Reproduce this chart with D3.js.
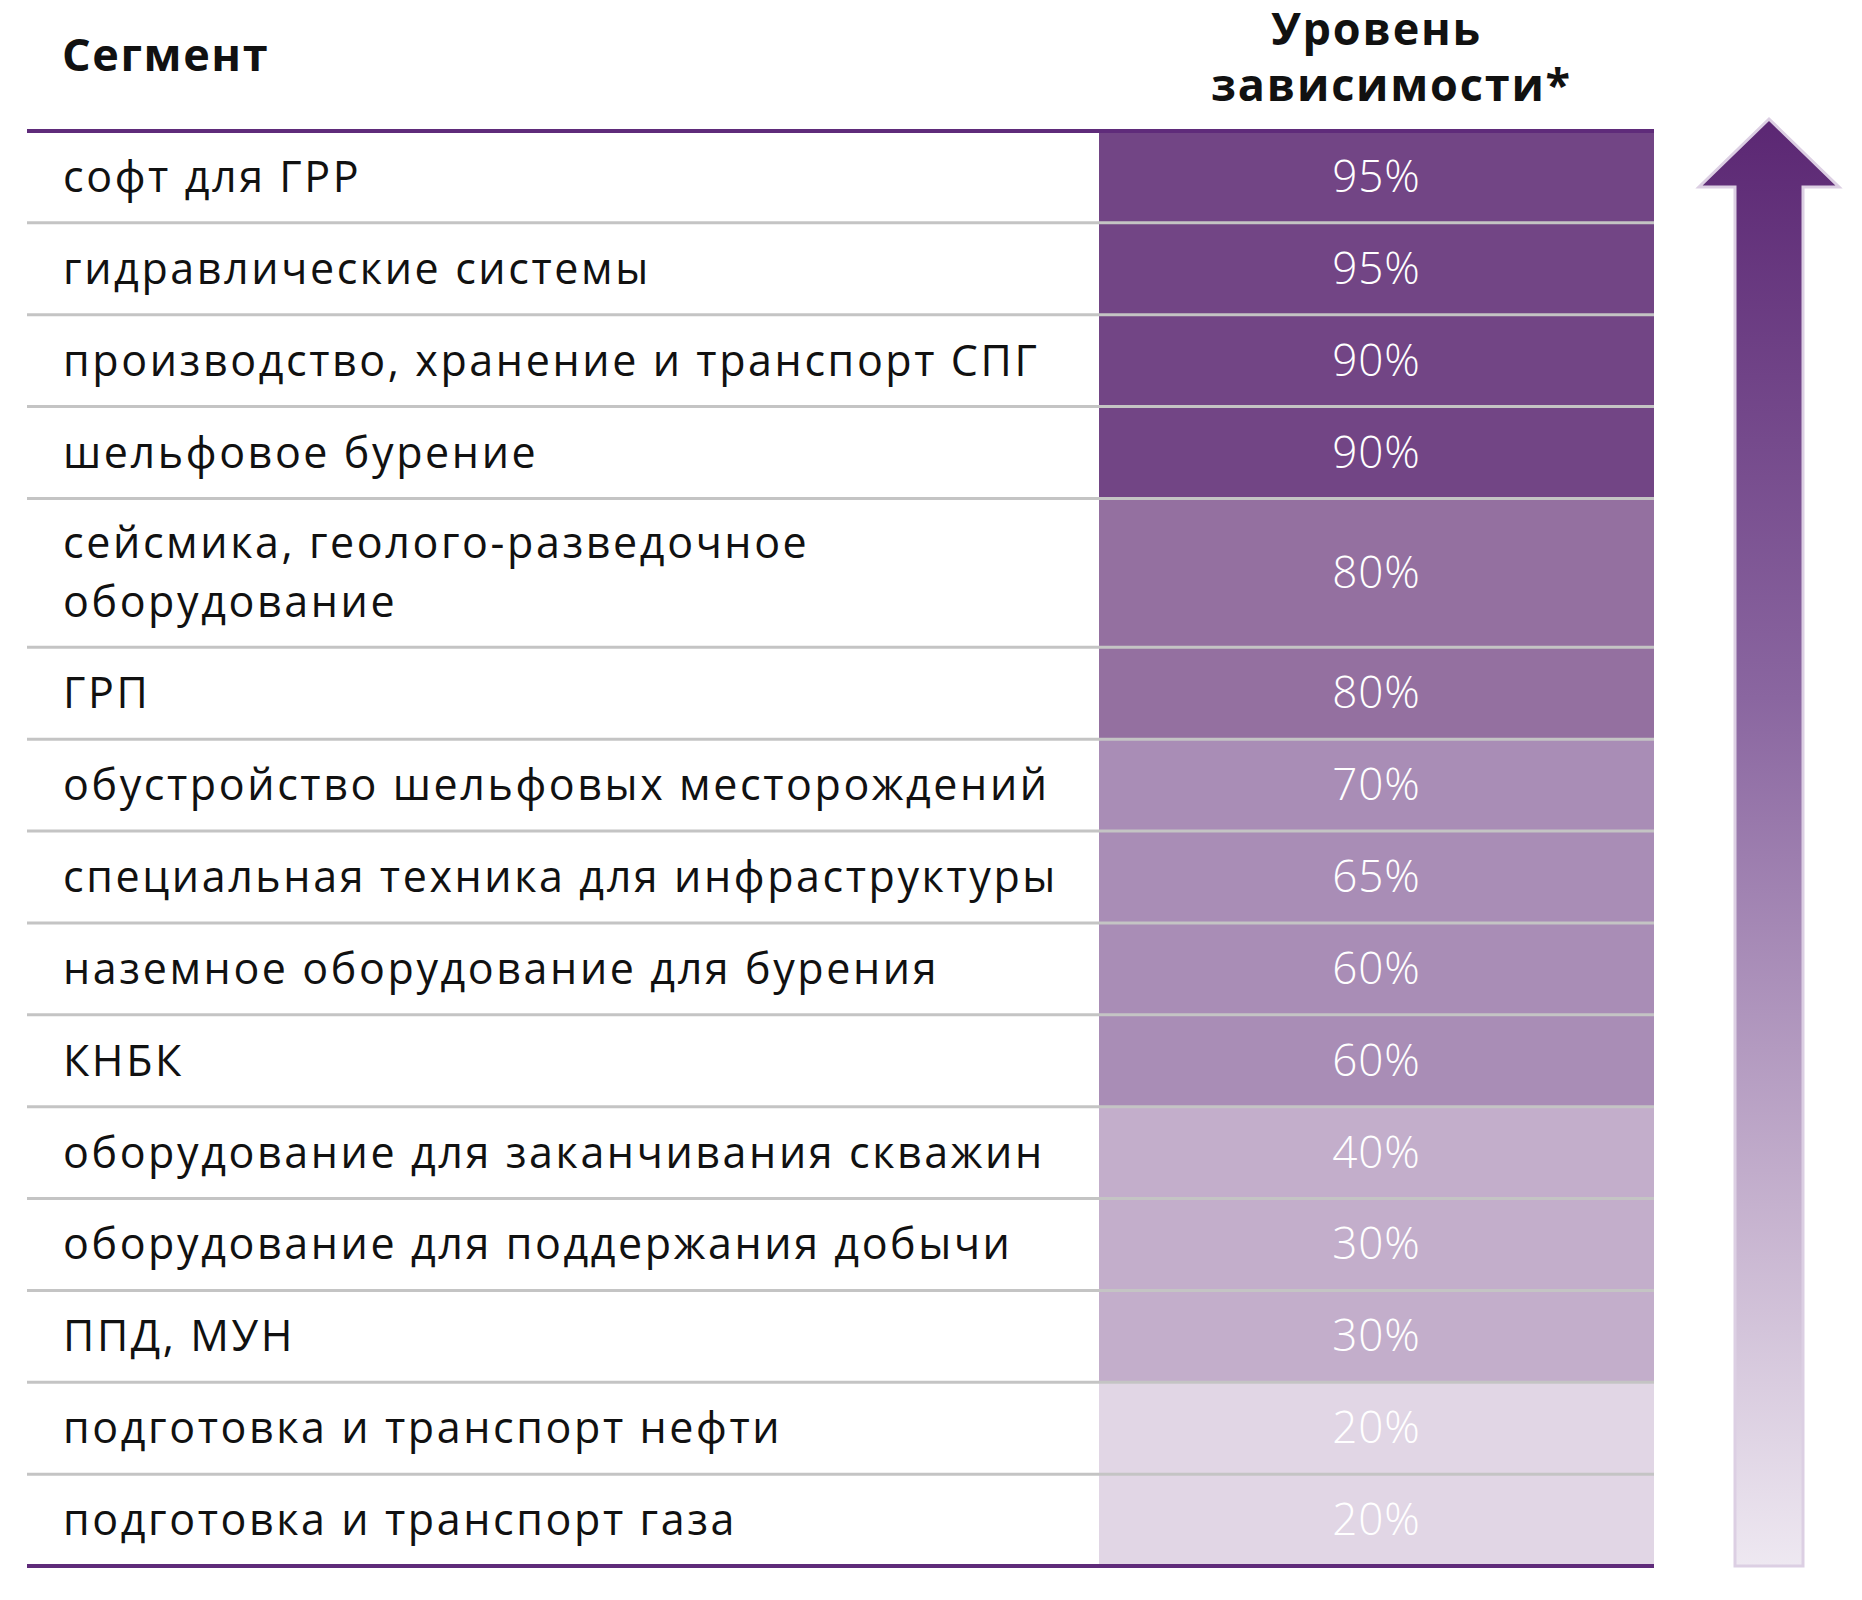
<!DOCTYPE html>
<html>
<head>
<meta charset="utf-8">
<script src="https://cdn.jsdelivr.net/npm/d3@7"></script>
<style>
  body { margin: 0; background: #fff; }
  text { font-family: "Open Sans", "Noto Sans", sans-serif; }
</style>
</head>
<body>
<div id="chart"></div>
<script>
// Table data
const segments = [
    "софт для ГРР",
    "гидравлические системы",
    "производство, хранение и транспорт СПГ",
    "шельфовое бурение",
    "сейсмика, геолого-разведочное\nоборудование",
    "ГРП",
    "обустройство шельфовых месторождений",
    "специальная техника для инфраструктуры",
    "наземное оборудование для бурения",
    "КНБК",
    "оборудование для заканчивания скважин",
    "оборудование для поддержания добычи",
    "ППД, МУН",
    "подготовка и транспорт нефти",
    "подготовка и транспорт газа"
];
const levels = [95, 95, 90, 90, 80, 80, 70, 65, 60, 60, 40, 30, 30, 20, 20];
const headerLeft = "Сегмент";
const headerRight = ["Уровень", "зависимости*"];

const width = 1862, height = 1600;
const tableLeft = 27, colLeft = 1099, tableRight = 1654;
const tableTop = 131, tableBottom = 1566;

const svg = d3.select("#chart").append("svg")
    .attr("width", width)
    .attr("height", height);

// Row heights: single-line rows = 1 unit, two-line rows = 1.62 units
const rows = segments.map((s, i) => {
    const lines = s.split("\n");
    return {label: lines, value: levels[i], units: lines.length > 1 ? 1.62 : 1};
});
let acc = 0;
rows.forEach(r => { r.start = acc; acc += r.units; r.end = acc; });

const y = d3.scaleLinear()
    .domain([0, acc])
    .range([tableTop, tableBottom]);

const color = d3.scaleThreshold()
    .domain([30, 60, 80, 90])
    .range(["#e1d6e5", "#c3aecb", "#a98db6", "#9470a0", "#724585"]);

// Coloured value cells
svg.selectAll("rect.cell")
    .data(rows)
    .enter()
    .append("rect")
    .attr("class", "cell")
    .attr("x", colLeft)
    .attr("y", d => y(d.start))
    .attr("width", tableRight - colLeft)
    .attr("height", d => y(d.end) - y(d.start))
    .attr("fill", d => color(d.value));

// Grey separators between rows
svg.selectAll("line.sep")
    .data(rows.slice(0, -1))
    .enter()
    .append("line")
    .attr("class", "sep")
    .attr("x1", tableLeft)
    .attr("x2", tableRight)
    .attr("y1", d => y(d.end))
    .attr("y2", d => y(d.end))
    .attr("stroke", "#c4c4c4")
    .attr("stroke-width", 3);

// Purple top and bottom rules
svg.selectAll("line.rule")
    .data([0, acc])
    .enter()
    .append("line")
    .attr("class", "rule")
    .attr("x1", tableLeft)
    .attr("x2", tableRight)
    .attr("y1", d => y(d))
    .attr("y2", d => y(d))
    .attr("stroke", "#5f2b7a")
    .attr("stroke-width", 4);

// Segment labels
const lineGap = 59;
const labels = svg.selectAll("text.label")
    .data(rows)
    .enter()
    .append("text")
    .attr("class", "label")
    .attr("font-size", 43)
    .attr("letter-spacing", 2.6)
    .attr("fill", "#111");

labels.selectAll("tspan")
    .data(d => d.label.map((t, k) => ({t, k, n: d.label.length, mid: (y(d.start) + y(d.end)) / 2})))
    .enter()
    .append("tspan")
    .attr("x", 63)
    .attr("y", d => d.mid + 15 + (d.k - (d.n - 1) / 2) * lineGap)
    .text(d => d.t);

// Percent values
const colMid = (colLeft + tableRight) / 2;
svg.selectAll("text.value")
    .data(rows)
    .enter()
    .append("text")
    .attr("class", "value")
    .attr("x", colMid)
    .attr("y", d => (y(d.start) + y(d.end)) / 2 + 15)
    .attr("text-anchor", "middle")
    .attr("font-size", 44)
    .attr("font-weight", 300)
    .attr("letter-spacing", 1)
    .attr("fill", "#fff")
    .text(d => d3.format(".0%")(d.value / 100));

// Headers
svg.append("text")
    .attr("x", 62)
    .attr("y", 71)
    .attr("font-size", 45)
    .attr("font-weight", 700)
    .attr("letter-spacing", 1.6)
    .attr("fill", "#111")
    .text(headerLeft);

svg.selectAll("text.head")
    .data(headerRight)
    .enter()
    .append("text")
    .attr("class", "head")
    .attr("x", (d, i) => colMid + i * 15)
    .attr("y", (d, i) => 45 + i * 56)
    .attr("text-anchor", "middle")
    .attr("font-size", 45)
    .attr("font-weight", 700)
    .attr("letter-spacing", 1.8)
    .attr("fill", "#111")
    .text(d => d);

// Gradient arrow on the right
const defs = svg.append("defs");
const grad = defs.append("linearGradient")
    .attr("id", "arrowGrad")
    .attr("x1", 0).attr("y1", 0)
    .attr("x2", 0).attr("y2", 1);
grad.append("stop").attr("offset", "0%").attr("stop-color", "#5b2773");
grad.append("stop").attr("offset", "40%").attr("stop-color", "#8a66a0");
grad.append("stop").attr("offset", "75%").attr("stop-color", "#c5b1ce");
grad.append("stop").attr("offset", "100%").attr("stop-color", "#eee8f1");

const ax = 1769, headHalf = 70, shaftHalf = 34;
const arrowTop = 119, headBase = 187;
const arrowPts = [
    [ax, arrowTop],
    [ax + headHalf, headBase],
    [ax + shaftHalf, headBase],
    [ax + shaftHalf, tableBottom],
    [ax - shaftHalf, tableBottom],
    [ax - shaftHalf, headBase],
    [ax - headHalf, headBase]
];
svg.append("path")
    .attr("d", d3.line()(arrowPts) + "Z")
    .attr("fill", "url(#arrowGrad)")
    .attr("stroke", "#dccfe3")
    .attr("stroke-width", 3)
    .attr("stroke-linejoin", "miter");
</script>
</body>
</html>
